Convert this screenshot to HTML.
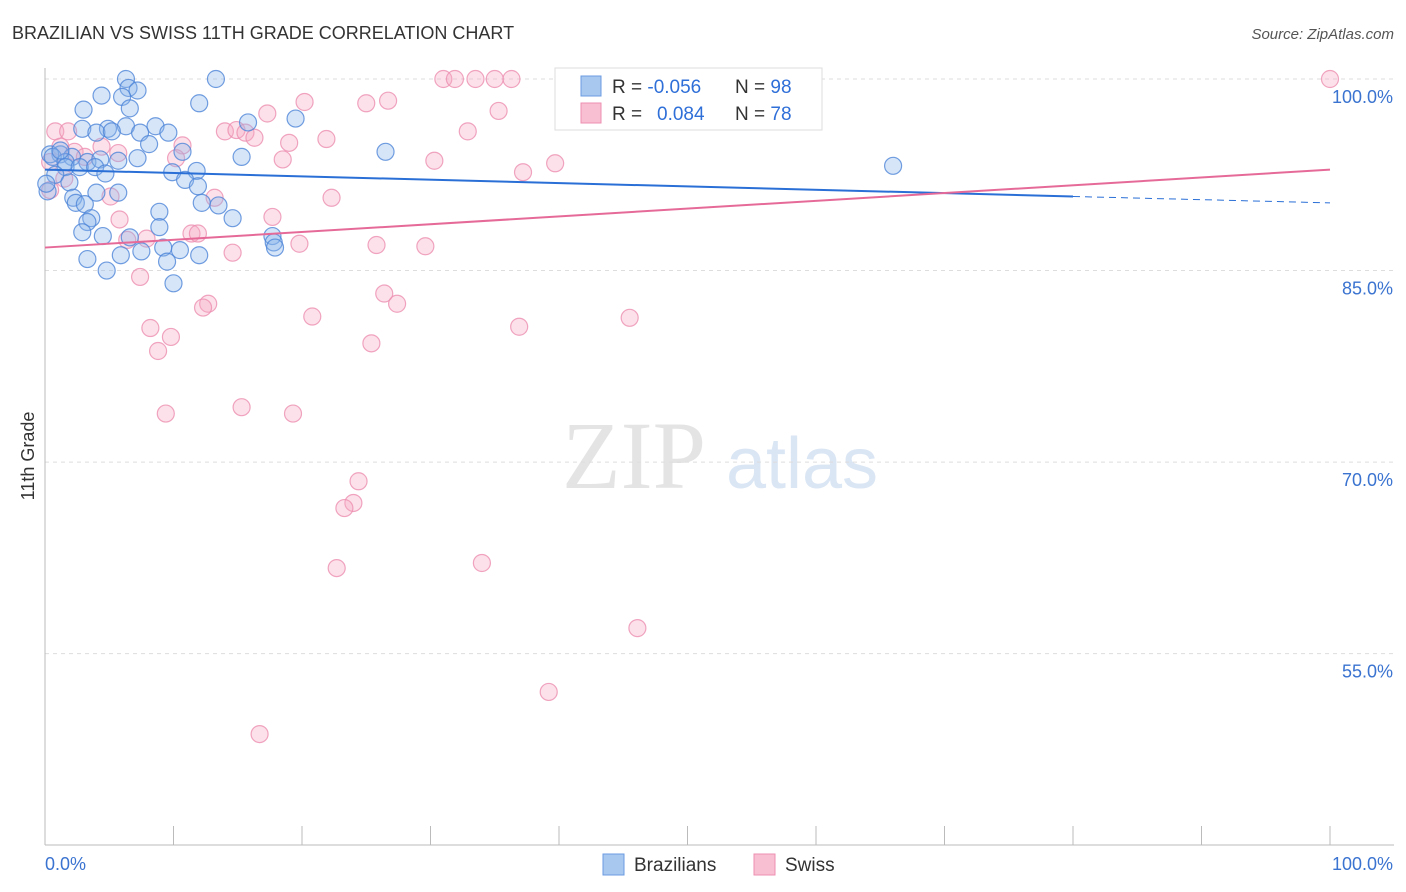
<!DOCTYPE html>
<html><head><meta charset="utf-8"><style>
body{margin:0;background:#fff;font-family:"Liberation Sans",sans-serif}
svg{display:block}
</style></head><body>
<svg id="chart" width="1406" height="892" xmlns="http://www.w3.org/2000/svg" font-family="Liberation Sans, sans-serif">
<text x="12" y="39" font-size="18" fill="#333">BRAZILIAN VS SWISS 11TH GRADE CORRELATION CHART</text>
<text x="1394" y="39" font-size="15" fill="#555" font-style="italic" text-anchor="end">Source: ZipAtlas.com</text>
<text x="634" y="488" font-size="96" fill="#e4e4e4" font-family="Liberation Serif, serif" text-anchor="middle">ZIP</text>
<text x="802" y="488" font-size="72" fill="#dbe6f4" text-anchor="middle">atlas</text>
<g id="grid"></g><g id="axes"></g><g id="pts"></g><g id="lines"></g>
<text transform="translate(34,456) rotate(-90)" font-size="18" fill="#333" text-anchor="middle">11th Grade</text>
<g>
<rect x="555" y="68" width="267" height="62" fill="#fff" stroke="#ddd"/>
<rect x="581" y="76" width="20" height="20" fill="#a9c8f0" stroke="#6a9be0"/>
<rect x="581" y="103" width="20" height="20" fill="#f8bfd2" stroke="#ee8fb0"/>
<text x="612" y="93" font-size="19" fill="#333">R = <tspan fill="#2f6fd8">-0.056</tspan></text>
<text x="735" y="93" font-size="19" fill="#333">N = <tspan fill="#2f6fd8">98</tspan></text>
<text x="612" y="120" font-size="19" fill="#333">R =  <tspan fill="#2f6fd8" x="657">0.084</tspan></text>
<text x="735" y="120" font-size="19" fill="#333">N = <tspan fill="#2f6fd8">78</tspan></text>
</g>
<g>
<rect x="603" y="854" width="21" height="21" fill="#a9c8f0" stroke="#6a9be0"/>
<text x="634" y="871" font-size="19" fill="#333">Brazilians</text>
<rect x="754" y="854" width="21" height="21" fill="#f8bfd2" stroke="#ee8fb0"/>
<text x="785" y="871" font-size="19" fill="#333">Swiss</text>
</g>
</svg>
<script>
const yTicks=[100,85,70,55];
const yTickLabels=["100.0%","85.0%","70.0%","55.0%"];
const xTickLabels=["0.0%","100.0%"];
const blueX=[6.3,13.3,6.5,7.2,4.4,6.0,3.0,6.6,12.0,19.5,15.8,2.9,4.9,6.3,8.6,4.0,5.2,7.4,9.6,8.1,10.7,15.3,26.5,1.2,0.4,2.1,0.6,1.6,3.3,4.3,5.7,7.2,1.6,2.7,3.9,4.7,9.9,11.8,0.8,1.9,10.9,0.2,4.0,11.9,5.7,2.2,2.4,3.1,12.2,13.5,8.9,14.6,3.6,3.3,8.9,2.9,4.5,6.6,17.7,17.8,9.2,10.5,7.5,5.9,12.0,17.9,3.3,9.5,4.8,10.0,66.0,1.2,0.1];
const blueY=[100,100,99.3,99.1,98.7,98.6,97.6,97.7,98.1,96.9,96.6,96.1,96.1,96.3,96.3,95.8,95.9,95.8,95.8,94.9,94.3,93.9,94.3,94.1,94.1,93.9,93.9,93.5,93.5,93.7,93.6,93.8,93.1,93.1,93.1,92.6,92.7,92.8,92.5,91.9,92.1,91.2,91.1,91.6,91.1,90.7,90.3,90.2,90.3,90.1,89.6,89.1,89.1,88.8,88.4,88.0,87.7,87.6,87.7,87.2,86.8,86.6,86.5,86.2,86.2,86.8,85.9,85.7,85.0,84.0,93.2,94.4,91.8];
const pinkX=[31.0,31.9,33.5,35.0,36.3,41.5,45.5,47.5,51.0,52.5,100,26.7,25.0,20.2,17.3,35.3,0.8,1.8,14.0,14.9,15.6,16.3,32.9,21.9,19.0,10.7,4.4,1.2,5.7,2.3,3.1,10.2,18.5,30.3,39.7,37.2,1.5,5.1,13.2,22.3,5.8,17.7,11.4,11.9,6.4,7.9,19.8,25.8,29.6,14.6,7.4,26.4,27.4,12.7,12.3,20.8,45.5,36.9,8.2,9.8,25.4,8.8,9.4,15.3,19.3,24.4,24.0,23.3,22.7,34.0,46.1,39.2,16.7,0.4,0.4];
const pinkY=[100,100,100,100,100,100,100,100,100,100,100,98.3,98.1,98.2,97.3,97.5,95.9,95.9,95.9,96.0,95.8,95.4,95.9,95.3,95.0,94.8,94.7,94.7,94.2,94.3,93.9,93.8,93.7,93.6,93.4,92.7,92.2,90.8,90.7,90.7,89.0,89.2,87.9,87.9,87.4,87.5,87.1,87.0,86.9,86.4,84.5,83.2,82.4,82.4,82.1,81.4,81.3,80.6,80.5,79.8,79.3,78.7,73.8,74.3,73.8,68.5,66.8,66.4,61.7,62.1,57.0,52.0,48.7,93.5,91.3];
const blueTrend=[[0,92.9],[80,90.8],[100,90.3]];
const pinkTrend=[[0,86.8],[100,92.9]];
const X=v=>45+v*12.85, Y=v=>79+(100-v)*12.77;
const NS="http://www.w3.org/2000/svg";
function mk(tag,attrs,parent){const e=document.createElementNS(NS,tag);for(const k in attrs)e.setAttribute(k,attrs[k]);document.getElementById(parent).appendChild(e);return e;}
yTicks.forEach((t,i)=>{
 const l=mk('line',{x1:45,x2:1394,y1:Y(t),y2:Y(t),stroke:'#ddd','stroke-dasharray':'4,4'},'grid');
 
 
 const tx=mk('text',{x:1393,y:Y(t)+24,'font-size':18,fill:'#3a73d0','text-anchor':'end'},'grid');
 tx.textContent=yTickLabels[i];
 
 
});
const ax=mk('line',{x1:45,x2:45,y1:68,y2:845,stroke:'#bbb'},'axes');


const bx=mk('line',{x1:45,x2:1394,y1:845,y2:845,stroke:'#bbb'},'axes');


for(let i=0;i<=10;i++){const t=mk('line',{x1:X(i*10),x2:X(i*10),y1:826,y2:845,stroke:'#bbb'},'axes');
 
 }
[[0,'start',45],[100,'end',1393]].forEach((a,i)=>{const t=mk('text',{x:a[2],y:870,'font-size':18,fill:'#3a73d0','text-anchor':a[1]},'axes');t.textContent=xTickLabels[i];
 
 });
function dots(xs,ys,fill,stroke,name){xs.forEach((x,i)=>{const c=mk('circle',{cx:X(x),cy:Y(ys[i]),r:8.5,fill:fill,'fill-opacity':0.35,stroke:stroke,'stroke-opacity':0.8,'stroke-width':1.2},'pts');
 
 });}
dots(pinkX,pinkY,'#f6a8c4','#ec8fb0','swiss-point');
dots(blueX,blueY,'#8ab4ec','#4f86d8','brazilian-point');
const b1=mk('line',{x1:X(blueTrend[0][0]),y1:Y(blueTrend[0][1]),x2:X(blueTrend[1][0]),y2:Y(blueTrend[1][1]),stroke:'#2a6fd6','stroke-width':2},'lines');


const b2=mk('line',{x1:X(blueTrend[1][0]),y1:Y(blueTrend[1][1]),x2:X(blueTrend[2][0]),y2:Y(blueTrend[2][1]),stroke:'#2a6fd6','stroke-width':1,'stroke-dasharray':'7,5'},'lines');


const p1=mk('line',{x1:X(pinkTrend[0][0]),y1:Y(pinkTrend[0][1]),x2:X(pinkTrend[1][0]),y2:Y(pinkTrend[1][1]),stroke:'#e66a98','stroke-width':2},'lines');


</script>
</body></html>
